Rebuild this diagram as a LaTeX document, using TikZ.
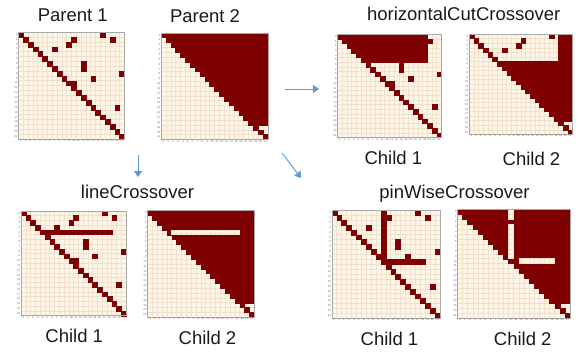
\documentclass[tikz,border=0pt]{standalone}
\usepackage{fontspec}
\setmainfont{Liberation Sans}
\usetikzlibrary{arrows.meta}
\definecolor{cream}{HTML}{FEF5E7}
\definecolor{gridc}{HTML}{F0E1CE}
\definecolor{bordc}{HTML}{A8A8A8}
\definecolor{dark}{HTML}{7F0000}
\definecolor{arrc}{HTML}{5B9BD5}
\definecolor{txt}{HTML}{1A1A1A}
\newcommand\dk[2]{\filldraw[dark,line width=0.15pt] (#1,#2) rectangle ++(1,1);}
\newcommand\dkb[4]{\filldraw[dark,line width=0.15pt] (#1,#2) rectangle (#3+1,#4+1);}
\newcommand\lt[2]{\filldraw[fill=cream,draw=gridc,line width=0.3pt] (#1,#2) rectangle ++(1,1);}
\newcommand\mtx[6]{%
 \begin{scope}[shift={(#2,#3)},x=#4pt,y=-#5pt]
  \fill[cream] (0,0) rectangle (22,22);
  \foreach \i in {1,...,21}{\draw[gridc,line width=0.3pt] (\i,0) -- (\i,22); \draw[gridc,line width=0.3pt] (0,\i) -- (22,\i);}
  #6
  \draw[bordc,line width=0.4pt] (0,0) rectangle (22,22);
  \foreach \i in {0,...,21}{%
    \node[tick,anchor=east] (#1-r\i) at (0,\i+0.5) {\i};
    \node[tick,anchor=north] (#1-c\i) at (\i+0.5,22) {\i};}
 \end{scope}}
\newcommand\PoneDiag[2]{\foreach \i in {#1,...,#2}{\dk{\i}{\i}}}
\newcommand\Pone{\PoneDiag{0}{21}%
  \foreach \c/\r in {17/0,11/1,19/1,10/2,7/3,13/6,13/7,21/8,15/9,11/10,20/15}{\dk{\c}{\r}}}
\newcommand\Ptwo{\foreach \r in {0,...,18}{\dkb{\r}{\r}{21}{\r}}\dk{19}{19}\dk{20}{20}\dk{21}{21}}
\begin{document}
\begin{tikzpicture}[x=1pt,y=-1pt,
  tick/.style={font=\fontsize{2.8}{3}\selectfont,text=black!60,inner sep=0.5pt},
  ttl/.style={font=\fontsize{18.5}{20}\selectfont,text=txt,anchor=base,inner sep=0pt},
  arr/.style={arrc,line width=0.9pt,-{Triangle[length=6pt,width=8pt]}}]
\useasboundingbox (0,0) rectangle (579,354);
% Parents
\mtx{pa}{18.3}{32}{4.82}{4.86}{\Pone}
\mtx{pb}{161}{32.7}{4.85}{4.85}{\Ptwo}
\node[ttl] (tp1) at (72.8,21.7) {Parent 1};
\node[ttl] (tp2) at (205,22) {Parent 2};
% horizontalCutCrossover
\mtx{ha}{337.3}{34}{4.73}{4.70}{%
  \foreach \r in {0,...,5}{\dkb{\r}{\r}{18}{\r}}\dk{19}{1}\PoneDiag{6}{21}%
  \foreach \c/\r in {13/6,13/7,21/8,15/9,11/10,20/15}{\dk{\c}{\r}}}
\mtx{hb}{469}{34}{4.70}{4.56}{%
  \PoneDiag{0}{5}\foreach \c/\r in {17/0,11/1,10/2,7/3}{\dk{\c}{\r}}%
  \dkb{19}{0}{21}{5}\foreach \r in {6,...,18}{\dkb{\r}{\r}{21}{\r}}\dk{19}{19}\dk{20}{20}\dk{21}{21}}
\node[ttl] (th) at (463.7,20) {horizontalCutCrossover};
\node[ttl] (th1) at (393.3,164) {Child 1};
\node[ttl] (th2) at (531.5,165) {Child 2};
% lineCrossover
\mtx{la}{21}{210.7}{4.77}{4.77}{\Pone\dkb{4}{4}{18}{4}}
\mtx{lb}{147.3}{210.3}{4.86}{4.86}{\Ptwo\foreach \c in {5,...,18}{\lt{\c}{4}}}
\node[ttl] (tl) at (137.5,198.3) {lineCrossover};
\node[ttl] (tl1) at (74.2,342.7) {Child 1};
\node[ttl] (tl2) at (207.5,344) {Child 2};
% pinWiseCrossover
\mtx{wa}{331.7}{210}{4.91}{4.92}{\Pone\dkb{10}{0}{10}{10}\dkb{10}{10}{18}{10}}
\mtx{wb}{457.3}{209.3}{5.12}{4.93}{\Ptwo
  \foreach \r in {0,1,3,4,5,6,7,8,9}{\lt{10}{\r}}\foreach \c in {12,...,18}{\lt{\c}{10}}}
\node[ttl] (tw) at (454.5,198.3) {pinWiseCrossover};
\node[ttl] (tw1) at (389.5,345) {Child 1};
\node[ttl] (tw2) at (522.7,345) {Child 2};
% arrows
\coordinate (aDs) at (138,155);
\coordinate (aDe) at (138,177);
\coordinate (aRs) at (285,89);
\coordinate (aRe) at (319,89);
\coordinate (aGs) at (282,153);
\coordinate (aGe) at (301,178);
\draw[arr] (aDs) -- (aDe);
\draw[arr] (aRs) -- (aRe);
\draw[arr] (aGs) -- (aGe);
\end{tikzpicture}
\end{document}
